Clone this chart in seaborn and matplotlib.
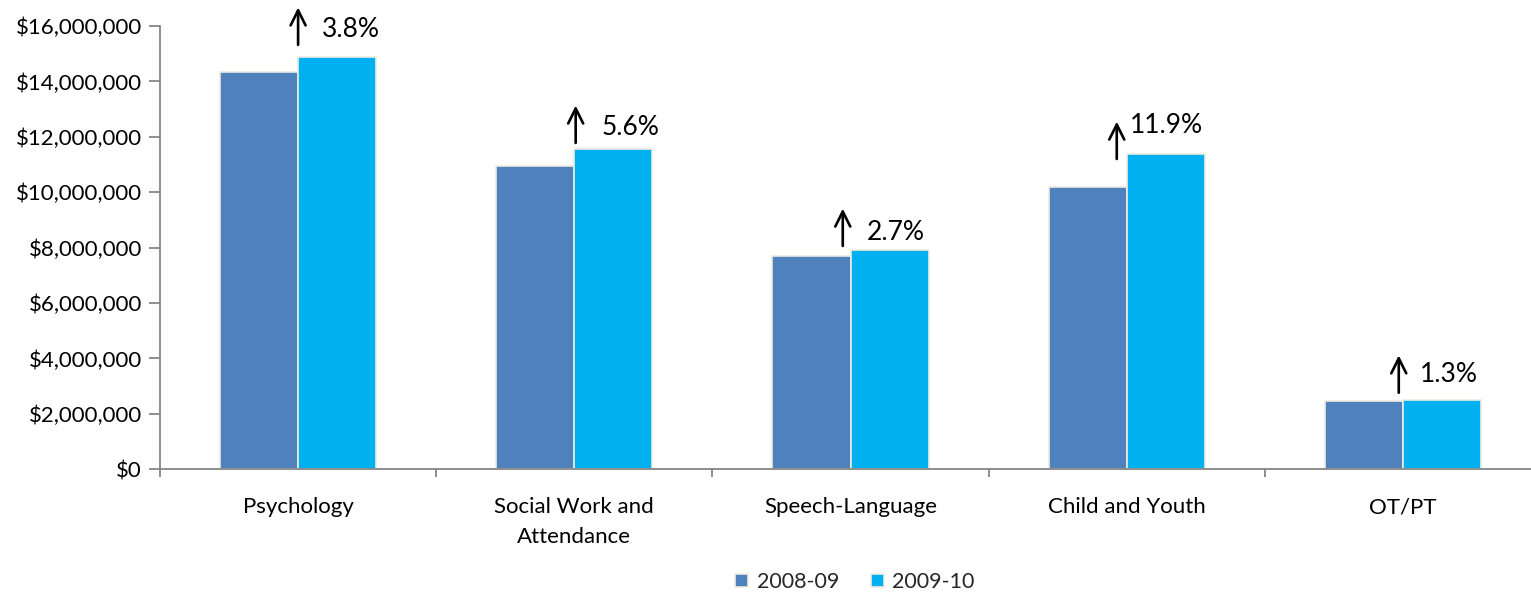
import matplotlib
matplotlib.use("Agg")
import matplotlib.pyplot as plt
from matplotlib.ticker import FuncFormatter, FixedLocator
import seaborn as sns
import pandas as pd

# Spending by service area, two school years
categories = ["Psychology", "Social Work and\nAttendance", "Speech-Language",
              "Child and Youth", "OT/PT"]
years = ["2008-09", "2009-10"]
spend_0809 = [14330000, 10960000, 7690000, 10180000, 2480000]
spend_0910 = [14870000, 11570000, 7900000, 11390000, 2512000]
y_ticks = [0, 2000000, 4000000, 6000000, 8000000, 10000000, 12000000,
           14000000, 16000000]

# Layout of the change arrows and their labels (data units)
arrow_dx = [0.0, 0.005, -0.028, -0.036, -0.015]
arrow_lift = [0.45e6, 0.21e6, 0.16e6, -0.19e6, 0.25e6]
arrow_len = 1.35e6
label_dx = [0.087, 0.098, 0.058, 0.011, 0.062]
label_lift = [0.55e6, 0.57e6, 0.50e6, 1.22e6, 0.65e6]

sns.set_theme(style="white")
plt.rcParams["font.family"] = ["Lato", "DejaVu Sans"]

df = pd.DataFrame({
    "category": categories * 2,
    "year": [years[0]] * len(categories) + [years[1]] * len(categories),
    "spend": spend_0809 + spend_0910,
})

fig = plt.figure(figsize=(15.31, 5.93), dpi=100)
ax = fig.add_axes([160 / 1531, 1 - 469.3 / 593, (1541 - 160) / 1531, (469.3 - 26) / 593])

palette = {"2008-09": "#4F81BD", "2009-10": "#00B0F0"}
sns.barplot(data=df, x="category", y="spend", hue="year", palette=palette,
            width=0.565, edgecolor="#EEEBE0", linewidth=1.2, saturation=1,
            ax=ax, legend=True)

ax.set_xlim(-0.5, 4.5)
ax.set_ylim(0, 16000000)
ax.set_yticks(y_ticks)
ax.yaxis.set_major_formatter(FuncFormatter(lambda v, p: f"${v:,.0f}"))
ax.set_xlabel("")
ax.set_ylabel("")

for side in ["top", "right"]:
    ax.spines[side].set_visible(False)
for side in ["left", "bottom"]:
    ax.spines[side].set_color("#868686")
    ax.spines[side].set_linewidth(1.3)

ax.tick_params(axis="y", which="major", left=True, length=8, width=1.3,
               color="#868686", labelsize=16, pad=5, labelcolor="black")
ax.tick_params(axis="x", which="major", bottom=False, labelsize=16, pad=14,
               labelcolor="black")
ax.xaxis.set_minor_locator(FixedLocator([-0.5, 0.5, 1.5, 2.5, 3.5]))
ax.tick_params(axis="x", which="minor", bottom=True, length=6, width=1.3,
               color="#868686")
for lbl in ax.get_xticklabels():
    lbl.set_linespacing(1.6)
    lbl.set_verticalalignment("top")

# Change arrows with percentage labels
for i in range(len(categories)):
    a, b = spend_0809[i], spend_0910[i]
    pct = (b / a - 1) * 100
    base = max(a, b) + arrow_lift[i]
    x = i + arrow_dx[i]
    ax.annotate("", xy=(x, base + arrow_len), xytext=(x, base),
                arrowprops=dict(arrowstyle="->", lw=1.9, color="black",
                                mutation_scale=27, shrinkA=0, shrinkB=0),
                annotation_clip=False)
    ax.text(i + label_dx[i], base + label_lift[i], f"{pct:.1f}%",
            ha="left", va="center", fontsize=19, color="black")

handles, labels = ax.get_legend_handles_labels()
ax.legend(handles, labels, loc="center", bbox_to_anchor=(855 / 1531, 1 - 582 / 593),
          bbox_transform=fig.transFigure, ncol=2, frameon=False, fontsize=15.5,
          handlelength=0.6, handleheight=0.6, handletextpad=0.4,
          columnspacing=1.45)

fig.savefig("out.png", dpi=100)
